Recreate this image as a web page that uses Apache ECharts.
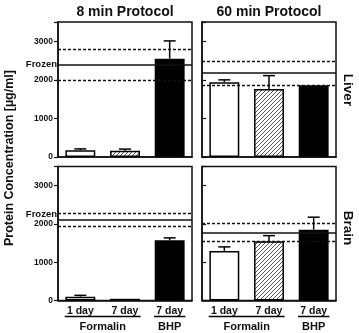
<!DOCTYPE html>
<html>
<head>
<meta charset="utf-8">
<script src="https://cdn.jsdelivr.net/npm/echarts@6/dist/echarts.min.js"></script>
<style>
  html, body { margin: 0; padding: 0; background: #fff; }
  #chart { width: 359px; height: 333px; }
</style>
</head>
<body>
<div id="chart"></div>
<script>
  // data
  const categories = ['1 day', '7 day', '7 day']
  const groups = ['Formalin', 'BHP']
  const groupSpans = [[0, 1], [2, 2]]
  const yTicks = [0, 1000, 2000, 3000]

  const liver8 = [175, 160, 2550]
  const liver8Err = [35, 45, 460]
  const liver60 = [1940, 1760, 1860]
  const liver60Err = [60, 350, 0]
  const brain8 = [100, 45, 1575]
  const brain8Err = [35, 15, 60]
  const brain60 = [1295, 1547, 1850]
  const brain60Err = [105, 147, 326]

  // frozen reference: [mean, low, high]
  const liver8Frozen = [2400, 2000, 2800]
  const liver60Frozen = [2190, 1870, 2470]
  const brain8Frozen = [2110, 1935, 2290]
  const brain60Frozen = [1780, 1554, 2005]

  const font = '"Liberation Sans", Arial, sans-serif'
  const ink = '#111'

  // hatch pattern for the formalin 7 day bar
  const hatch = document.createElement('canvas')
  hatch.width = 4
  hatch.height = 4
  const hc = hatch.getContext('2d')
  hc.fillStyle = '#fff'
  hc.fillRect(0, 0, 4, 4)
  hc.strokeStyle = '#555'
  hc.lineWidth = 1
  hc.beginPath()
  hc.moveTo(0, 4); hc.lineTo(4, 0)
  hc.moveTo(-1, 1); hc.lineTo(1, -1)
  hc.moveTo(3, 5); hc.lineTo(5, 3)
  hc.stroke()
  const fills = ['#fff', { image: hatch, repeat: 'repeat' }, '#000']

  // panel layout: liver 8, liver 60, brain 8, brain 60
  const panels = [
    { left: 58, top: 22, height: 135, vals: liver8, err: liver8Err, frozen: liver8Frozen, leftSide: true, bottomRow: false, valign: 'middle' },
    { left: 202, top: 22, height: 135, vals: liver60, err: liver60Err, frozen: liver60Frozen, leftSide: false, bottomRow: false, valign: 'middle' },
    { left: 58, top: 166.5, height: 134, vals: brain8, err: brain8Err, frozen: brain8Frozen, leftSide: true, bottomRow: true, valign: 'bottom' },
    { left: 202, top: 166.5, height: 134, vals: brain60, err: brain60Err, frozen: brain60Frozen, leftSide: false, bottomRow: true, valign: 'middle' }
  ]

  const grid = [], xAxis = [], yAxis = [], series = []

  panels.forEach((p, i) => {
    grid.push({ left: p.left, top: p.top, width: 134, height: p.height, show: true, borderColor: ink, borderWidth: 1.5 })
    xAxis.push({
      type: 'category', gridIndex: i, data: categories,
      axisLine: { lineStyle: { color: ink, width: 1.5 } },
      axisTick: { show: false },
      axisLabel: { show: p.bottomRow, margin: 5, color: ink, fontFamily: font, fontWeight: 'bold', fontSize: 10.5 }
    })
    yAxis.push({
      type: 'value', gridIndex: i, min: 0, max: 3500, interval: 1000,
      axisLine: { show: true, lineStyle: { color: ink, width: 1.5 } },
      axisTick: { show: true, inside: !p.leftSide, length: 4, lineStyle: { color: ink, width: 1.2 } },
      splitLine: { show: false },
      axisLabel: {
        show: p.leftSide, margin: 5, color: ink, fontFamily: font, fontWeight: 'bold', fontSize: 8.5,
        formatter: v => (yTicks.indexOf(v) >= 0 ? String(v) : '')
      }
    })

    const dashed = { type: [3, 2], color: ink, width: 1.3 }
    series.push({
      type: 'bar', xAxisIndex: i, yAxisIndex: i, barWidth: '67%',
      data: p.vals.map((v, k) => ({ value: v, itemStyle: { color: fills[k], borderColor: '#000', borderWidth: 1.5 } })),
      markLine: {
        silent: true, symbol: ['none', 'none'], animation: false,
        data: [
          {
            yAxis: p.frozen[0], lineStyle: { type: 'solid', color: ink, width: 1.5 },
            label: {
              show: p.leftSide, position: 'start', formatter: 'Frozen', distance: 1,
              color: ink, fontFamily: font, fontWeight: 'bold', fontSize: 9.5,
              verticalAlign: p.valign
            }
          },
          { yAxis: p.frozen[1], lineStyle: dashed, label: { show: false } },
          { yAxis: p.frozen[2], lineStyle: dashed, label: { show: false } }
        ]
      }
    })

    // upward error bars with caps
    series.push({
      type: 'custom', xAxisIndex: i, yAxisIndex: i, z: 5, clip: false,
      data: p.vals.map((v, k) => [k, v, v + p.err[k]]),
      renderItem: (params, api) => {
        const base = api.coord([api.value(0), api.value(1)])
        const top = api.coord([api.value(0), api.value(2)])
        if (base[1] - top[1] < 1) return null
        const style = { stroke: '#000', lineWidth: 1.5 }
        return {
          type: 'group',
          children: [
            { type: 'line', shape: { x1: base[0], y1: base[1], x2: top[0], y2: top[1] }, style },
            { type: 'line', shape: { x1: top[0] - 6, y1: top[1], x2: top[0] + 6, y2: top[1] }, style }
          ]
        }
      }
    })

    // group underline + group name under the bottom panels
    if (p.bottomRow) {
      series.push({
        type: 'custom', xAxisIndex: i, yAxisIndex: i, clip: false, silent: true,
        data: groupSpans.map(s => [s[0], s[1]]),
        renderItem: (params, api) => {
          const a = api.coord([api.value(0), 0])
          const b = api.coord([api.value(1), 0])
          const half = api.size([1, 0])[0] * 0.35
          const y = a[1] + 16
          return {
            type: 'group',
            children: [
              { type: 'line', shape: { x1: a[0] - half, y1: y, x2: b[0] + half, y2: y }, style: { stroke: '#000', lineWidth: 1.5 } },
              {
                type: 'text',
                style: {
                  x: (a[0] + b[0]) / 2, y: y + 10, text: groups[params.dataIndex],
                  align: 'center', verticalAlign: 'middle',
                  font: 'bold 11px ' + font, fill: ink
                }
              }
            ]
          }
        }
      })
    }
  })

  const txt = (text, x, y, size, rotation) => ({
    type: 'text', x, y, rotation: rotation || 0,
    style: { text, font: 'bold ' + size + 'px ' + font, fill: ink, align: 'center', verticalAlign: 'middle' }
  })

  const option = {
    animation: false,
    grid, xAxis, yAxis, series,
    graphic: [
      txt('8 min Protocol', 125, 12, 14),
      txt('60 min Protocol', 269, 12, 14),
      txt('Liver', 348, 90, 13.5, -Math.PI / 2),
      txt('Brain', 348, 228, 13.5, -Math.PI / 2),
      txt('Protein Concentration [µg/ml]', 10, 158, 12.5, Math.PI / 2)
    ]
  }

  const chart = echarts.init(document.getElementById('chart'))
  chart.setOption(option)
</script>
</body>
</html>
